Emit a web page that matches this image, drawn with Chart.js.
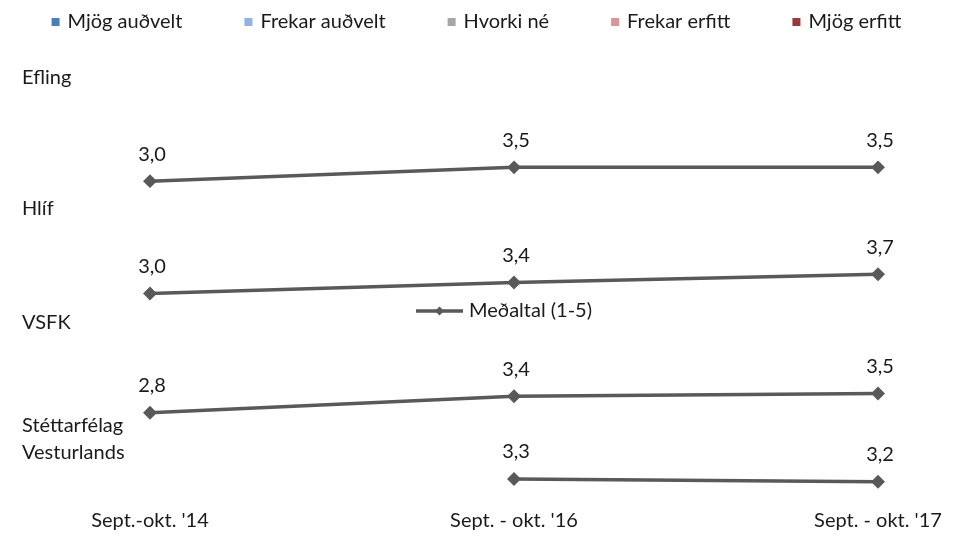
<!DOCTYPE html>
<html>
<head>
<meta charset="utf-8">
<script src="https://cdn.jsdelivr.net/npm/chart.js@4"></script>
<style>
  html, body { margin: 0; padding: 0; background: #fff; }
  #wrap { width: 953px; height: 553px; }
</style>
</head>
<body>
<div id="wrap"><canvas id="chart"></canvas></div>
<script>
const periods = ["Sept.-okt. '14", "Sept. - okt. '16", "Sept. - okt. '17"];
const groups = ["Efling", "Hlíf", "VSFK", ["Stéttarfélag", "Vesturlands"]];
const efling = [3.0, 3.5, 3.5];
const hlif = [3.0, 3.4, 3.7];
const vsfk = [2.8, 3.4, 3.5];
const vesturlands = [null, 3.3, 3.2];
const answerLabels = ["Mjög auðvelt", "Frekar auðvelt", "Hvorki né", "Frekar erfitt", "Mjög erfitt"];
const answerColors = ["#4a7ebb", "#8eb4e3", "#a6a6a6", "#d99694", "#9b3b39"];
const seriesLabel = "Meðaltal (1-5)";

const FAMILY = 'Lato, "Noto Sans", sans-serif';
const SIZE = 20;
const TEXT = "#1a1a1a";
const LINE = "#595959";

function fmt(v) {
  return v.toFixed(1).replace(".", ",");
}

const lineStyle = {
  label: seriesLabel,
  borderColor: LINE,
  backgroundColor: LINE,
  borderWidth: 3.5,
  pointStyle: "rectRot",
  pointRadius: 4.5,
  pointHoverRadius: 4.5,
  tension: 0,
  fill: false,
  clip: false,
};

// value labels, group names and the two legends
const overlay = {
  id: "overlay",
  afterDatasetsDraw(chart) {
    const ctx = chart.ctx;
    ctx.save();
    ctx.font = SIZE + "px " + FAMILY;
    ctx.fillStyle = TEXT;
    ctx.textBaseline = "middle";

    ctx.textAlign = "center";
    chart.data.datasets.forEach((ds, i) => {
      chart.getDatasetMeta(i).data.forEach((pt, j) => {
        const v = ds.data[j];
        if (v == null) return;
        ctx.fillText(fmt(v), pt.x + 2, pt.y - 27);
      });
    });

    ctx.textAlign = "left";
    groups.forEach((g, i) => {
      const scale = chart.scales["y" + i];
      [].concat(g).forEach((line, k) => {
        ctx.fillText(line, 22, scale.top + 12 + k * 27);
      });
    });

    // answer legend across the top
    const box = 8, gap = 8, spacing = 62;
    const widths = answerLabels.map((t) => ctx.measureText(t).width);
    const total = widths.reduce((a, w) => a + box + gap + w, 0) + spacing * (answerLabels.length - 1);
    let x = (chart.width - total) / 2;
    const ly = 22;
    answerLabels.forEach((t, i) => {
      ctx.fillStyle = answerColors[i];
      ctx.fillRect(x, ly - box / 2, box, box);
      ctx.fillStyle = TEXT;
      ctx.fillText(t, x + box + gap, ly);
      x += box + gap + widths[i] + spacing;
    });

    // series legend in the middle
    const sx = 416, sy = 311;
    ctx.strokeStyle = LINE;
    ctx.lineWidth = 3.5;
    ctx.beginPath();
    ctx.moveTo(sx, sy);
    ctx.lineTo(sx + 47, sy);
    ctx.stroke();
    ctx.fillStyle = LINE;
    ctx.beginPath();
    ctx.moveTo(sx + 23.5, sy - 4.5);
    ctx.lineTo(sx + 28, sy);
    ctx.lineTo(sx + 23.5, sy + 4.5);
    ctx.lineTo(sx + 19, sy);
    ctx.closePath();
    ctx.fill();
    ctx.fillStyle = TEXT;
    ctx.fillText(seriesLabel, sx + 53, sy);

    ctx.restore();
  },
};

function band(weight, stackWeight, min, max) {
  return {
    type: "linear",
    position: "left",
    stack: "groups",
    stackWeight: stackWeight,
    weight: weight,
    min: min,
    max: max,
    display: false,
  };
}

new Chart(document.getElementById("chart"), {
  type: "line",
  data: {
    labels: periods,
    datasets: [
      { ...lineStyle, data: efling, yAxisID: "y0" },
      { ...lineStyle, data: hlif, yAxisID: "y1" },
      { ...lineStyle, data: vsfk, yAxisID: "y2" },
      { ...lineStyle, data: vesturlands, yAxisID: "y3" },
    ],
  },
  options: {
    responsive: true,
    maintainAspectRatio: false,
    animation: false,
    events: [],
    layout: { padding: { top: 66, left: 150, right: 75, bottom: 12 } },
    plugins: {
      legend: { display: false },
      tooltip: { enabled: false },
    },
    scales: {
      x: {
        type: "category",
        offset: false,
        grid: { display: false, drawTicks: false },
        border: { display: false },
        ticks: {
          color: TEXT,
          font: { family: FAMILY, size: SIZE },
          padding: 8,
          maxRotation: 0,
          autoSkip: false,
        },
      },
      y0: band(4, 130, 2.45, 7.18),
      y1: band(3, 114, 2.38, 6.53),
      y2: band(2, 103, 2.76, 6.51),
      y3: band(1, 87, 2.5, 5.66),
    },
  },
  plugins: [overlay],
});
</script>
</body>
</html>
